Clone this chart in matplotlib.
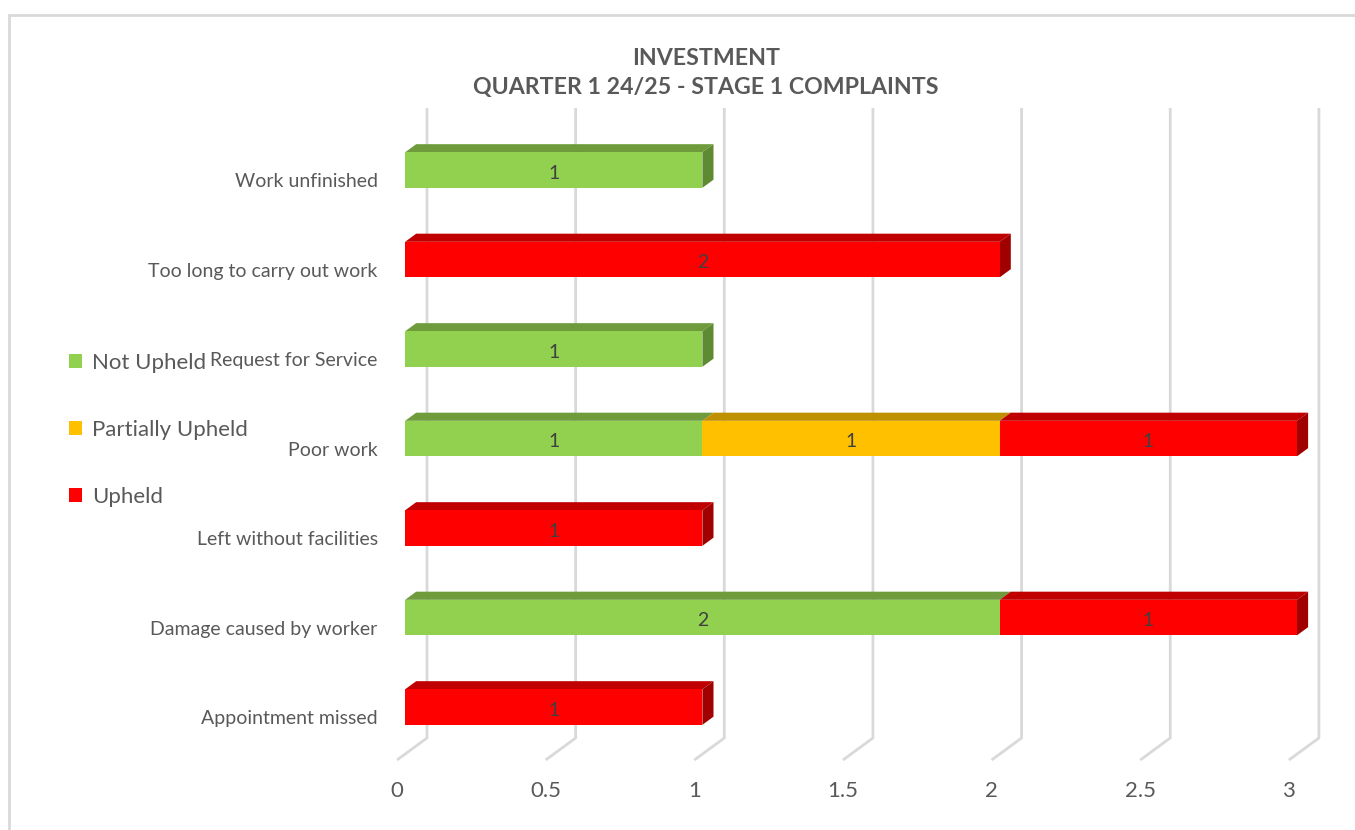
import numpy as np
import matplotlib.pyplot as plt
from matplotlib.patches import Polygon, Patch, Rectangle

plt.rcParams['font.family'] = ['Lato', 'DejaVu Sans']

# data, bottom to top as in the source sheet
categories = ['Appointment missed', 'Damage caused by worker', 'Left without facilities',
              'Poor work', 'Request for Service', 'Too long to carry out work', 'Work unfinished']
not_upheld = [0, 2, 0, 1, 1, 0, 1]
partially_upheld = [0, 0, 0, 1, 0, 0, 0]
upheld = [1, 1, 1, 1, 0, 2, 0]
series_names = ['Not Upheld', 'Partially Upheld', 'Upheld']
x_ticks = [0, 0.5, 1, 1.5, 2, 2.5, 3]
x_tick_labels = ['0', '0.5', '1', '1.5', '2', '2.5', '3']

# colours: front, top, side
front_cols = ['#92D050', '#FFC000', '#FF0000']
top_cols = ['#6F9B3D', '#BF9000', '#C00000']
side_cols = ['#5E8A31', '#A07800', '#A00000']

W, H = 1355, 830
fig = plt.figure(figsize=(W / 100, H / 100), dpi=100)

# axes placed in pixels, oblique projection done by hand
sx = 297.3      # px per value unit
sy = 89.5       # px per category
x0_px = 397     # value 0 at front floor
y0_px = 713     # category 0 at front
ax_l, ax_r, ax_t, ax_b = 386, 1345, 100, 770
ax = fig.add_axes([ax_l / W, 1 - ax_b / H, (ax_r - ax_l) / W, (ax_b - ax_t) / H])
ax.set_xlim((ax_l - x0_px) / sx, (ax_r - x0_px) / sx)
ax.set_ylim((y0_px - ax_b) / sy, (y0_px - ax_t) / sy)
for s in ax.spines.values():
    s.set_visible(False)

DX = 30 / sx    # full depth shift
DY = 22 / sy
def proj(x, y, d):
    return (x + d * DX, y + d * DY)

y_floor = (y0_px - 760) / sy
y_top = (y0_px - 108) / sy - DY

grid_col = '#D9D9D9'
for t in x_ticks:
    p0 = proj(t, y_floor, 0)
    p1 = proj(t, y_floor, 1)
    p2 = proj(t, y_top, 1)
    ax.plot([p0[0], p1[0], p2[0]], [p0[1], p1[1], p2[1]], color=grid_col, lw=2,
            solid_capstyle='butt', zorder=1)

# 3d-ish stacked bars
h = 35.5 / sy
d0, d1 = 0.27, 0.64
series = [not_upheld, partially_upheld, upheld]
for i in range(len(categories)):
    left = 0
    vals = [s[i] for s in series]
    last = max(k for k in range(3) if vals[k] > 0)
    for k in range(3):
        v = vals[k]
        if v == 0:
            continue
        right = left + v
        yb, yt = i - h / 2, i + h / 2
        front = [proj(left, yb, d0), proj(right, yb, d0), proj(right, yt, d0), proj(left, yt, d0)]
        top = [proj(left, yt, d0), proj(right, yt, d0), proj(right, yt, d1), proj(left, yt, d1)]
        ax.add_patch(Polygon(top, closed=True, facecolor=top_cols[k], edgecolor='none', zorder=3))
        if k == last:
            side = [proj(right, yb, d0), proj(right, yb, d1), proj(right, yt, d1), proj(right, yt, d0)]
            ax.add_patch(Polygon(side, closed=True, facecolor=side_cols[k], edgecolor='none', zorder=3))
        ax.add_patch(Polygon(front, closed=True, facecolor=front_cols[k], edgecolor='none', zorder=4))
        cx, cy = proj(left + v / 2, i, d0)
        ax.text(cx, cy - 3 / sy, str(v), ha='center', va='center', fontsize=14, color='#404040', zorder=5)
        left = right

ax.set_xticks(x_ticks)
ax.set_xticklabels(x_tick_labels, fontsize=16, color='#595959')
ax.set_yticks(np.arange(len(categories)) - 4 / sy)
ax.set_yticklabels(categories, fontsize=14, color='#595959')
ax.tick_params(axis='x', length=0, pad=8)
ax.tick_params(axis='y', length=0, pad=6)

fig.text(706 / W, 1 - 73 / H, 'INVESTMENT\nQUARTER 1 24/25 - STAGE 1 COMPLAINTS', ha='center', va='center',
         fontsize=16.7, fontweight='bold', color='#595959', linespacing=1.5)

handles = [Patch(facecolor=c, edgecolor='none') for c in front_cols]
fig.legend(handles, series_names, loc='upper left', bbox_to_anchor=(60 / W, 1 - 344 / H),
           frameon=False, fontsize=16, labelcolor='#595959', handlelength=0.6, handleheight=0.6,
           handletextpad=0.45, labelspacing=2.12, borderaxespad=0)

# chart border
fig.patches.append(Rectangle((9 / W, -0.05), 1.1, 1.05 - 15 / H, transform=fig.transFigure,
                             fill=False, edgecolor='#D9D9D9', lw=2))

fig.savefig('out.png', dpi=100)
